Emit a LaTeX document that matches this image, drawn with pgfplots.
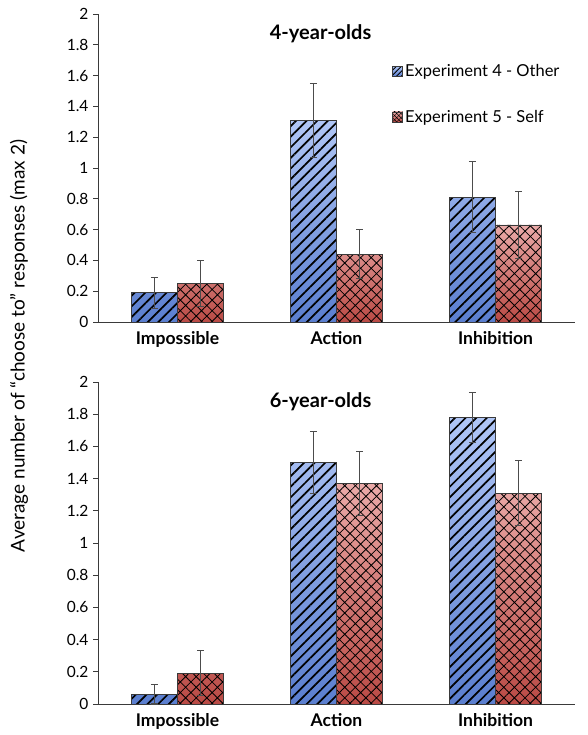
\documentclass[border=0pt]{standalone}
\usepackage{pgfplots}
\pgfplotsset{compat=1.18}
\usepackage{fontspec}
\setmainfont{Lato}
\usetikzlibrary{patterns.meta}
\definecolor{bluetop}{HTML}{B0C6F6}
\definecolor{bluebot}{HTML}{5A7ECF}
\definecolor{redtop}{HTML}{EBAAA8}
\definecolor{redbot}{HTML}{BA4A45}
\definecolor{axgray}{HTML}{3A3A3A}
\pgfplotsset{
  mybars/.style={
    scale only axis, width=477pt,
    ybar, bar width=0.29,
    xmin=-0.5, xmax=2.5, ymin=0, ymax=2,
    xtick={0,1,2}, xticklabels={Impossible,Action,Inhibition},
    major x tick style={draw=none},
    extra x ticks={0.5,1.5,2.5}, extra x tick labels={},
    extra x tick style={tick style={draw=axgray, line width=0.8pt}, major tick length=5pt},
    ytick={0,0.2,...,2.01},
    axis x line=bottom, axis y line=left,
    axis line style={-, draw=axgray, line width=0.9pt},
    tick align=outside, major tick length=5pt,
    ytick style={draw=axgray, line width=0.8pt},
    xtick style={draw=axgray},
    tick label style={font=\fontsize{15.5}{17}\selectfont, /pgf/number format/assume math mode=true},
    xticklabel style={font=\fontsize{17.5}{19}\selectfont\bfseries, yshift=-1pt},
    yticklabel style={/pgf/number format/fixed, /pgf/number format/precision=1, xshift=-1pt},
    error bars/error bar style={draw=gray!60!black, line width=1.1pt},
    error bars/error mark options={draw=gray!60!black, rotate=90, mark size=3.5pt, line width=1.1pt},
    clip=false,
  },
  bluefill/.style={forget plot, draw=axgray, line width=0.6pt, top color=bluetop, bottom color=bluebot, bar shift=-0.145},
  bluepat/.style={forget plot, draw=axgray, line width=0.6pt, fill=none, bar shift=-0.145,
    pattern={Lines[angle=45, distance=7.5pt, line width=1.7pt]}},
  redfill/.style={forget plot, draw=axgray, line width=0.6pt, top color=redtop, bottom color=redbot, bar shift=0.145},
  redpat/.style={forget plot, draw=axgray, line width=0.6pt, fill=none, bar shift=0.145,
    pattern={Hatch[angle=45, distance=7.5pt, line width=0.8pt]}},
}
\begin{document}
\begin{tikzpicture}
\useasboundingbox (0,0) rectangle (587pt,735pt);
% top axis
\begin{axis}[mybars, height=308pt, at={(98pt,413pt)}, anchor=south west,
  legend style={draw=none, fill=none, at={(0.61,0.85)}, anchor=north west,
    font=\fontsize{16.5}{18}\selectfont, row sep=28pt, /tikz/every even column/.append style={column sep=6pt},
    cells={anchor=west}},
]
\addplot[bluefill] coordinates {(0,0.19) (1,1.31) (2,0.81)};
\addplot[bluepat, error bars/.cd, y dir=both, y explicit] coordinates {
  (0,0.19) +- (0,0.10)
  (1,1.31) +- (0,0.24)
  (2,0.81) +- (0,0.23)
};
\addplot[redfill] coordinates {(0,0.25) (1,0.44) (2,0.63)};
\addplot[redpat, error bars/.cd, y dir=both, y explicit] coordinates {
  (0,0.25) +- (0,0.15)
  (1,0.44) +- (0,0.16)
  (2,0.63) +- (0,0.22)
};
\addlegendimage{legend image code/.code={
  \draw[draw=axgray, line width=0.5pt, top color=bluetop, bottom color=bluebot] (0pt,-5pt) rectangle (10pt,5pt);
  \draw[draw=axgray, line width=0.5pt, pattern={Lines[angle=45, distance=3.5pt, line width=0.9pt]}] (0pt,-5pt) rectangle (10pt,5pt);}}
\addlegendentry{Experiment 4 - Other}
\addlegendimage{legend image code/.code={
  \draw[draw=axgray, line width=0.5pt, top color=redtop, bottom color=redbot] (0pt,-5pt) rectangle (10pt,5pt);
  \draw[draw=axgray, line width=0.5pt, pattern={Hatch[angle=45, distance=3pt, line width=0.5pt]}] (0pt,-5pt) rectangle (10pt,5pt);}}
\addlegendentry{Experiment 5 - Self}
\node[font=\fontsize{20}{22}\selectfont\bfseries] at (axis cs:0.9,1.87) {4-year-olds};
\end{axis}
% bottom axis
\begin{axis}[mybars, height=322pt, at={(98pt,31pt)}, anchor=south west]
\addplot[bluefill] coordinates {(0,0.06) (1,1.50) (2,1.78)};
\addplot[bluepat, error bars/.cd, y dir=both, y explicit] coordinates {
  (0,0.06) +- (0,0.06)
  (1,1.50) +- (0,0.19)
  (2,1.78) +- (0,0.155)
};
\addplot[redfill] coordinates {(0,0.19) (1,1.37) (2,1.31)};
\addplot[redpat, error bars/.cd, y dir=both, y explicit] coordinates {
  (0,0.19) +- (0,0.14)
  (1,1.37) +- (0,0.20)
  (2,1.31) +- (0,0.20)
};
\node[font=\fontsize{20}{22}\selectfont\bfseries] at (axis cs:0.9,1.88) {6-year-olds};
\end{axis}
\node[rotate=90, font=\fontsize{19}{21}\selectfont] at (19pt,389pt) {Average number of “choose to” responses (max 2)};
\end{tikzpicture}
\end{document}
